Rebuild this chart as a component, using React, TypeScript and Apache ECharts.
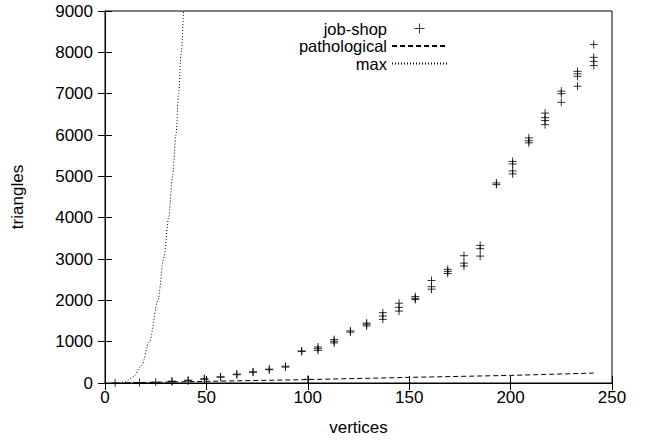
import React, { useEffect, useRef } from "react";
import * as echarts from "echarts";

// job-shop instances: vertices and triangle counts (paired arrays)
const jobShopVertices = [
  5, 17, 25, 33, 33, 41, 41, 49, 49, 57, 57, 65, 65, 73, 73, 81, 81, 89, 89,
  97, 97, 100, 105, 105, 105, 113, 113, 113, 121, 121, 129, 129, 129,
  137, 137, 137, 145, 145, 145, 153, 153, 153, 161, 161, 161,
  169, 169, 169, 177, 177, 177, 185, 185, 185, 193, 193,
  201, 201, 201, 201, 209, 209, 209, 217, 217, 217, 217,
  225, 225, 225, 233, 233, 233, 233, 241, 241, 241, 241,
];
const jobShopTriangles = [
  2, 8, 20, 35, 45, 55, 68, 88, 105, 140, 150, 200, 215, 260, 270, 320, 335, 385, 405,
  760, 775, 90, 790, 830, 870, 970, 1010, 1050, 1230, 1260, 1380, 1420, 1450,
  1540, 1620, 1700, 1740, 1830, 1930, 2020, 2050, 2090, 2270, 2330, 2480,
  2650, 2700, 2750, 2830, 2900, 3080, 3070, 3250, 3330, 4800, 4840,
  5060, 5130, 5300, 5360, 5810, 5860, 5930, 6250, 6350, 6420, 6530,
  6790, 7000, 7060, 7180, 7420, 7480, 7540, 7680, 7780, 7880, 8190,
];

// pathological curve
const pathVertices = [10, 97, 150, 200, 241];
const pathTriangles = [5, 80, 136, 184, 240];

// max curve
const maxVertices = [7, 10, 14, 18, 21.9, 26.1, 28.9, 31.4, 33.3, 35.0, 36.3, 37.6, 38.7];
const maxTriangles = [0, 30, 150, 420, 1000, 2000, 3000, 4000, 5000, 6000, 7000, 8000, 9000];

const seriesNames = ["job-shop", "pathological", "max"];
const xTitle = "vertices";
const yTitle = "triangles";

const FONT = "'Liberation Sans', Arial, Helvetica, sans-serif";
const PLUS = "path://M0,5H10M5,0V10";

export default function App() {
  const ref = useRef<HTMLDivElement>(null);
  useEffect(() => {
    if (!ref.current) return;
    const chart = echarts.init(ref.current, null, { renderer: "svg" });
    const pair = (xs: number[], ys: number[]) => xs.map((x, i) => [x, ys[i]]);
    const tickCommon = { show: true, inside: true, length: 7, lineStyle: { color: "#000", width: 1 } };
    const plain = (v: number) => String(v);
    const hiddenSymbol = { color: "transparent", borderColor: "transparent", borderWidth: 0, opacity: 0 };
    chart.setOption({
      animation: false,
      backgroundColor: "#fff",
      textStyle: { fontFamily: FONT },
      grid: {
        left: 105, right: 35, top: 11, bottom: 58,
        show: true, borderColor: "#000", borderWidth: 1, backgroundColor: "transparent",
      },
      legend: {
        orient: "vertical",
        align: "right",
        right: 199,
        top: 20,
        padding: 0,
        itemWidth: 55,
        itemHeight: 10,
        itemGap: 0.5,
        textStyle: { fontFamily: FONT, fontSize: 16.5, color: "#000", lineHeight: 16 },
        data: [
          { name: seriesNames[0], icon: PLUS, itemStyle: { color: "#000", borderColor: "#000", borderWidth: 1 } },
          { name: seriesNames[1], itemStyle: hiddenSymbol },
          { name: seriesNames[2], itemStyle: hiddenSymbol },
        ],
      },
      xAxis: [
        {
          type: "value", position: "bottom", min: 0, max: 250, interval: 50,
          axisLine: { show: true, lineStyle: { color: "#000" } },
          axisTick: tickCommon,
          splitLine: { show: false },
          axisLabel: { color: "#000", fontSize: 17, fontFamily: FONT, margin: 6, formatter: plain },
          name: xTitle, nameLocation: "middle", nameGap: 36,
          nameTextStyle: { color: "#000", fontSize: 17, fontFamily: FONT },
        },
        {
          type: "value", position: "top", min: 0, max: 250, interval: 50,
          axisLine: { show: true, lineStyle: { color: "#000" } },
          axisTick: tickCommon,
          splitLine: { show: false },
          axisLabel: { show: false },
        },
      ],
      yAxis: [
        {
          type: "value", position: "left", min: 0, max: 9000, interval: 1000,
          axisLine: { show: true, lineStyle: { color: "#000" } },
          axisTick: tickCommon,
          splitLine: { show: false },
          axisLabel: { color: "#000", fontSize: 17, fontFamily: FONT, margin: 12, formatter: plain },
          name: yTitle, nameLocation: "middle", nameGap: 79, nameRotate: 90,
          nameTextStyle: { color: "#000", fontSize: 17, fontFamily: FONT },
        },
        {
          type: "value", position: "right", min: 0, max: 9000, interval: 1000,
          axisLine: { show: true, lineStyle: { color: "#000" } },
          axisTick: tickCommon,
          splitLine: { show: false },
          axisLabel: { show: false },
        },
      ],
      series: [
        {
          name: seriesNames[0],
          type: "scatter",
          xAxisIndex: 0, yAxisIndex: 0,
          symbol: PLUS,
          symbolSize: 8,
          itemStyle: { color: "#000", borderColor: "#000", borderWidth: 1 },
          data: pair(jobShopVertices, jobShopTriangles),
          z: 3,
        },
        {
          name: seriesNames[1],
          type: "line",
          xAxisIndex: 0, yAxisIndex: 0,
          symbol: "none",
          color: "#000",
          lineStyle: { color: "#000", width: 1, type: [5, 3] },
          data: pair(pathVertices, pathTriangles),
        },
        {
          name: seriesNames[2],
          type: "line",
          xAxisIndex: 0, yAxisIndex: 0,
          symbol: "none",
          smooth: 0.3,
          smoothMonotone: "x",
          color: "#000",
          lineStyle: { color: "#000", width: 1, type: [1, 2] },
          data: pair(maxVertices, maxTriangles),
        },
      ],
    });
    return () => chart.dispose();
  }, []);
  return (
    <div
      ref={ref}
      style={{ position: "fixed", left: 0, top: 0, width: 647, height: 441 }}
    />
  );
}
